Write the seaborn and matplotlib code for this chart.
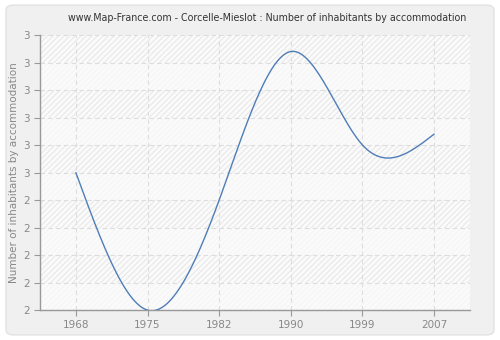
import numpy as np
import pandas as pd
import seaborn as sns
import matplotlib
matplotlib.use("Agg")
import matplotlib.pyplot as plt
from matplotlib.patches import FancyBboxPatch, Rectangle
from matplotlib.ticker import FixedLocator, FuncFormatter

years = ["1968", "1975", "1982", "1990", "1999", "2007"]
values = [2.5, 2.0, 2.4, 2.94, 2.6, 2.64]
y_ticks = [2.0, 2.1, 2.2, 2.3, 2.4, 2.5, 2.6, 2.7, 2.8, 2.9, 3.0]

title = "www.Map-France.com - Corcelle-Mieslot : Number of inhabitants by accommodation"
y_label = "Number of inhabitants by accommodation"


def natural_spline(x, y, xs):
    """Natural cubic spline through (x, y), evaluated at xs."""
    x = np.asarray(x, float)
    y = np.asarray(y, float)
    n = len(x)
    h = np.diff(x)
    A = np.zeros((n, n))
    b = np.zeros(n)
    A[0, 0] = A[-1, -1] = 1.0
    for i in range(1, n - 1):
        A[i, i - 1] = h[i - 1]
        A[i, i] = 2 * (h[i - 1] + h[i])
        A[i, i + 1] = h[i]
        b[i] = 3 * ((y[i + 1] - y[i]) / h[i] - (y[i] - y[i - 1]) / h[i - 1])
    c = np.linalg.solve(A, b)
    out = np.empty_like(xs)
    for k, t in enumerate(xs):
        i = min(max(np.searchsorted(x, t) - 1, 0), n - 2)
        dx = t - x[i]
        bi = (y[i + 1] - y[i]) / h[i] - h[i] * (2 * c[i] + c[i + 1]) / 3
        di = (c[i + 1] - c[i]) / (3 * h[i])
        out[k] = y[i] + bi * dx + c[i] * dx ** 2 + di * dx ** 3
    return out


pos = np.arange(len(years))
xs = np.linspace(0, len(years) - 1, 400)
curve = pd.DataFrame({"x": xs, "y": natural_spline(pos, values, xs)})

sns.set_style("white")
plt.rcParams["font.family"] = ["DejaVu Sans"]
plt.rcParams["hatch.linewidth"] = 0.6

fig = plt.figure(figsize=(5.0, 3.4), dpi=100)
fig.patch.set_facecolor("white")
frame = FancyBboxPatch((0.012, 0.015), 0.976, 0.97,
                       boxstyle="round,pad=0,rounding_size=0.015",
                       transform=fig.transFigure,
                       facecolor="#f0f0f0", edgecolor="#e2e2e2",
                       linewidth=1.0, zorder=-10)
fig.add_artist(frame)

ax = fig.add_axes([0.08, 0.088, 0.86, 0.809])
ax.set_zorder(1)
ax.set_facecolor("none")
ax.add_patch(Rectangle((0, 0), 1, 1, transform=ax.transAxes,
                       facecolor="#fafafa", edgecolor="none", zorder=0))
ax.add_patch(Rectangle((0, 0), 1, 1, transform=ax.transAxes,
                       facecolor="none", hatch="//////", edgecolor="#e3e3e3",
                       linewidth=0, zorder=0.1))
for lo in y_ticks[0:-1:2]:
    ax.axhspan(lo, lo + 0.1, facecolor="#fbfbfb", alpha=0.7,
               edgecolor="none", zorder=0.2)

sns.lineplot(data=curve, x="x", y="y", ax=ax, color="#4f7db8",
             linewidth=1.0, zorder=3)

ax.set_xlim(-0.5, len(years) - 0.5)
ax.set_ylim(2.0, 3.0)
ax.xaxis.set_major_locator(FixedLocator(pos))
ax.set_xticklabels(years)
ax.yaxis.set_major_locator(FixedLocator(y_ticks))
ax.yaxis.set_major_formatter(FuncFormatter(lambda v, _: f"{int(np.floor(v + 0.5 + 1e-9))}"))

ax.grid(True, color="#dddddd", linestyle=(0, (4, 3)), linewidth=0.8, zorder=1)
ax.set_axisbelow(True)
for s in ("top", "right"):
    ax.spines[s].set_visible(False)
for s in ("left", "bottom"):
    ax.spines[s].set_color("#999999")
    ax.spines[s].set_linewidth(1.0)

ax.tick_params(axis="both", which="major", length=4, width=0.8,
               color="#999999", labelcolor="#888888", labelsize=7.5,
               direction="out", bottom=True, left=True, pad=3)
ax.set_xlabel("")
ax.set_ylabel(y_label, color="#888888", fontsize=7.5, labelpad=3)

fig.text(0.534, 0.946, title, ha="center", va="center",
         fontsize=6.85, color="#333333")

fig.savefig("out.png", dpi=100, facecolor=fig.get_facecolor())
